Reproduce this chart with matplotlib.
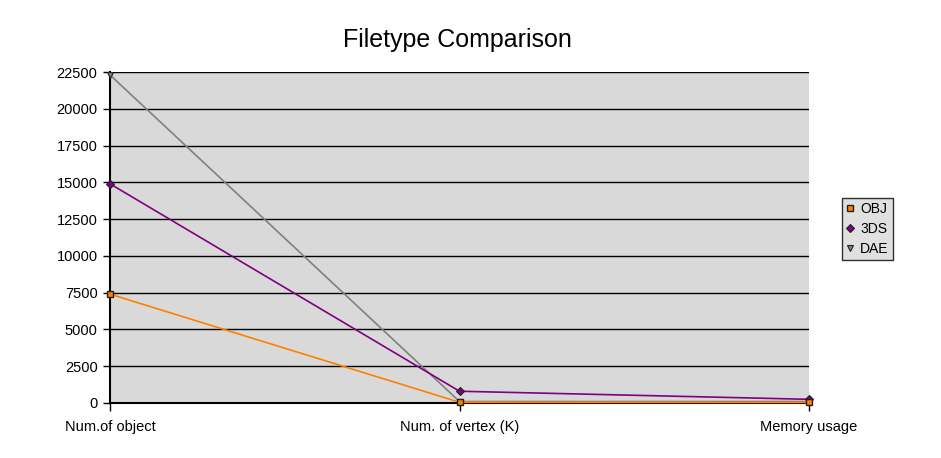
import matplotlib
matplotlib.use("Agg")
import matplotlib.pyplot as plt

categories = ["Num.of object", "Num. of vertex (K)", "Memory usage"]
obj_vals = [7400, 50, 40]
ds3_vals = [14900, 800, 250]
dae_vals = [22300, 100, 100]
yticks = [0, 2500, 5000, 7500, 10000, 12500, 15000, 17500, 20000, 22500]

plt.rcParams['font.family'] = ['Liberation Sans', 'DejaVu Sans']

fig = plt.figure(figsize=(9.41, 4.58), dpi=100)
ax = fig.add_axes([110/941, 55/458, (809-110)/941, (403-72)/458])
ax.set_facecolor('#d9d9d9')

x = list(range(len(categories)))
ax.plot(x, obj_vals, color='#ff8000', lw=1.2, marker='s', ms=5,
        mfc='#ff8000', mec='#222222', mew=1, label='OBJ', zorder=5, clip_on=False)
ax.plot(x, ds3_vals, color='#800080', lw=1.2, marker='D', ms=4,
        mfc='#800080', mec='#222222', mew=0.8, label='3DS', zorder=4, clip_on=False)
ax.plot(x, dae_vals, color='#808080', lw=1.2, marker='v', ms=5,
        mfc='#808080', mec='#222222', mew=0.8, label='DAE', zorder=3, clip_on=False)

ax.set_xlim(0, 2)
ax.set_ylim(0, 22500)
ax.set_yticks(yticks)
ax.set_yticklabels([str(v) for v in yticks], fontsize=10.5)
ax.set_xticks(x)
ax.set_xticklabels(categories, fontsize=10.5)
ax.yaxis.grid(True, color='black', lw=1)
ax.set_axisbelow(True)
for s in ['top', 'right']:
    ax.spines[s].set_visible(False)
ax.spines['left'].set_linewidth(1.5)
ax.spines['bottom'].set_linewidth(1.5)
ax.tick_params(axis='y', length=5, width=1, direction='out', pad=4)
ax.tick_params(axis='x', length=6, width=1, direction='out', pad=6)

fig.text(457/941, 1 - 40/458, "Filetype Comparison", fontsize=18, ha='center', va='center')

leg = ax.legend(loc='center left', bbox_to_anchor=(842/941, 229/458), bbox_transform=fig.transFigure,
                fontsize=10, frameon=True, fancybox=False, edgecolor='black',
                facecolor='#d9d9d9', handlelength=0.6, handletextpad=0.4,
                borderpad=0.3, labelspacing=0.45, borderaxespad=0)
for h in leg.get_lines():
    h.set_linestyle('None')
leg.get_frame().set_linewidth(1)

fig.savefig("out.png", dpi=100)
